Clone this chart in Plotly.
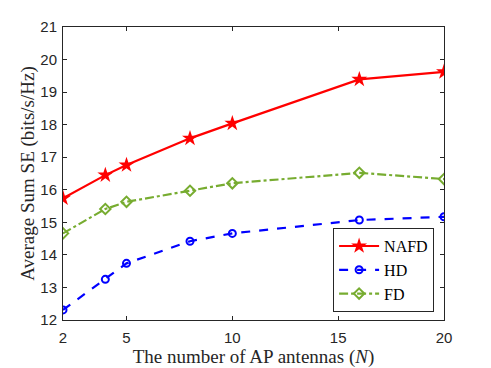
"""Average sum SE vs number of AP antennas"""

import plotly.graph_objects as go

N_ANTENNAS = [2, 4, 5, 8, 10, 16, 20]
NAFD = [15.74, 16.45, 16.76, 17.58, 18.04, 19.39, 19.62]
HD = [12.31, 13.25, 13.74, 14.42, 14.66, 15.07, 15.17]
FD = [14.66, 15.41, 15.63, 15.97, 16.20, 16.52, 16.33]

X_TICKS = [2, 5, 10, 15, 20]
Y_TICKS = list(range(12, 22))

SERIF = "Liberation Serif, DejaVu Serif, serif"
SANS = "Liberation Sans, Arial, sans-serif"
AXIS_COLOR = "#262626"

fig = go.Figure()
fig.add_trace(go.Scatter(
    x=N_ANTENNAS, y=NAFD, name="NAFD", mode="lines+markers",
    line=dict(color="#FF0000", width=2.2),
    marker=dict(symbol="star", size=12, color="#FF0000"),
))
fig.add_trace(go.Scatter(
    x=N_ANTENNAS, y=HD, name="HD", mode="lines+markers",
    line=dict(color="#0000FF", width=2.2, dash="dash"),
    marker=dict(symbol="circle-open", size=7, color="#0000FF", line=dict(width=2)),
))
fig.add_trace(go.Scatter(
    x=N_ANTENNAS, y=FD, name="FD", mode="lines+markers",
    line=dict(color="#77AC30", width=2.2, dash="dashdot"),
    marker=dict(symbol="diamond-open", size=8, color="#77AC30", line=dict(width=2)),
))

axis_common = dict(
    showline=True, linecolor=AXIS_COLOR, linewidth=1, mirror="ticks",
    ticks="inside", ticklen=4, tickcolor=AXIS_COLOR, showgrid=False, zeroline=False,
    tickfont=dict(family=SANS, size=15, color=AXIS_COLOR),
)

fig.update_layout(
    width=491, height=368,
    margin=dict(l=63, r=47, t=27, b=48, autoexpand=False),
    paper_bgcolor="white", plot_bgcolor="white",
    xaxis=dict(
        range=[2, 20], tickvals=X_TICKS, ticklabelstandoff=4,
        title=dict(text="The number of AP antennas (<i>N</i>)",
                   font=dict(family=SERIF, size=19, color=AXIS_COLOR), standoff=4),
        **axis_common,
    ),
    yaxis=dict(
        range=[12, 21], tickvals=Y_TICKS, ticklabelstandoff=2,
        title=dict(text="Average Sum SE (bits/s/Hz)",
                   font=dict(family=SERIF, size=19, color=AXIS_COLOR), standoff=0),
        **axis_common,
    ),
    legend=dict(
        x=0.974, y=0.027, xanchor="right", yanchor="bottom",
        bgcolor="white", bordercolor=AXIS_COLOR, borderwidth=1,
        font=dict(family=SERIF, size=16, color="black"),
        itemwidth=40, tracegroupgap=0,
    ),
    showlegend=True,
)

# drop the default page margin so the figure sits at the window's corner
fig.write_html("out.html", config={"displayModeBar": False},
               post_script="document.body.style.margin='0';")
